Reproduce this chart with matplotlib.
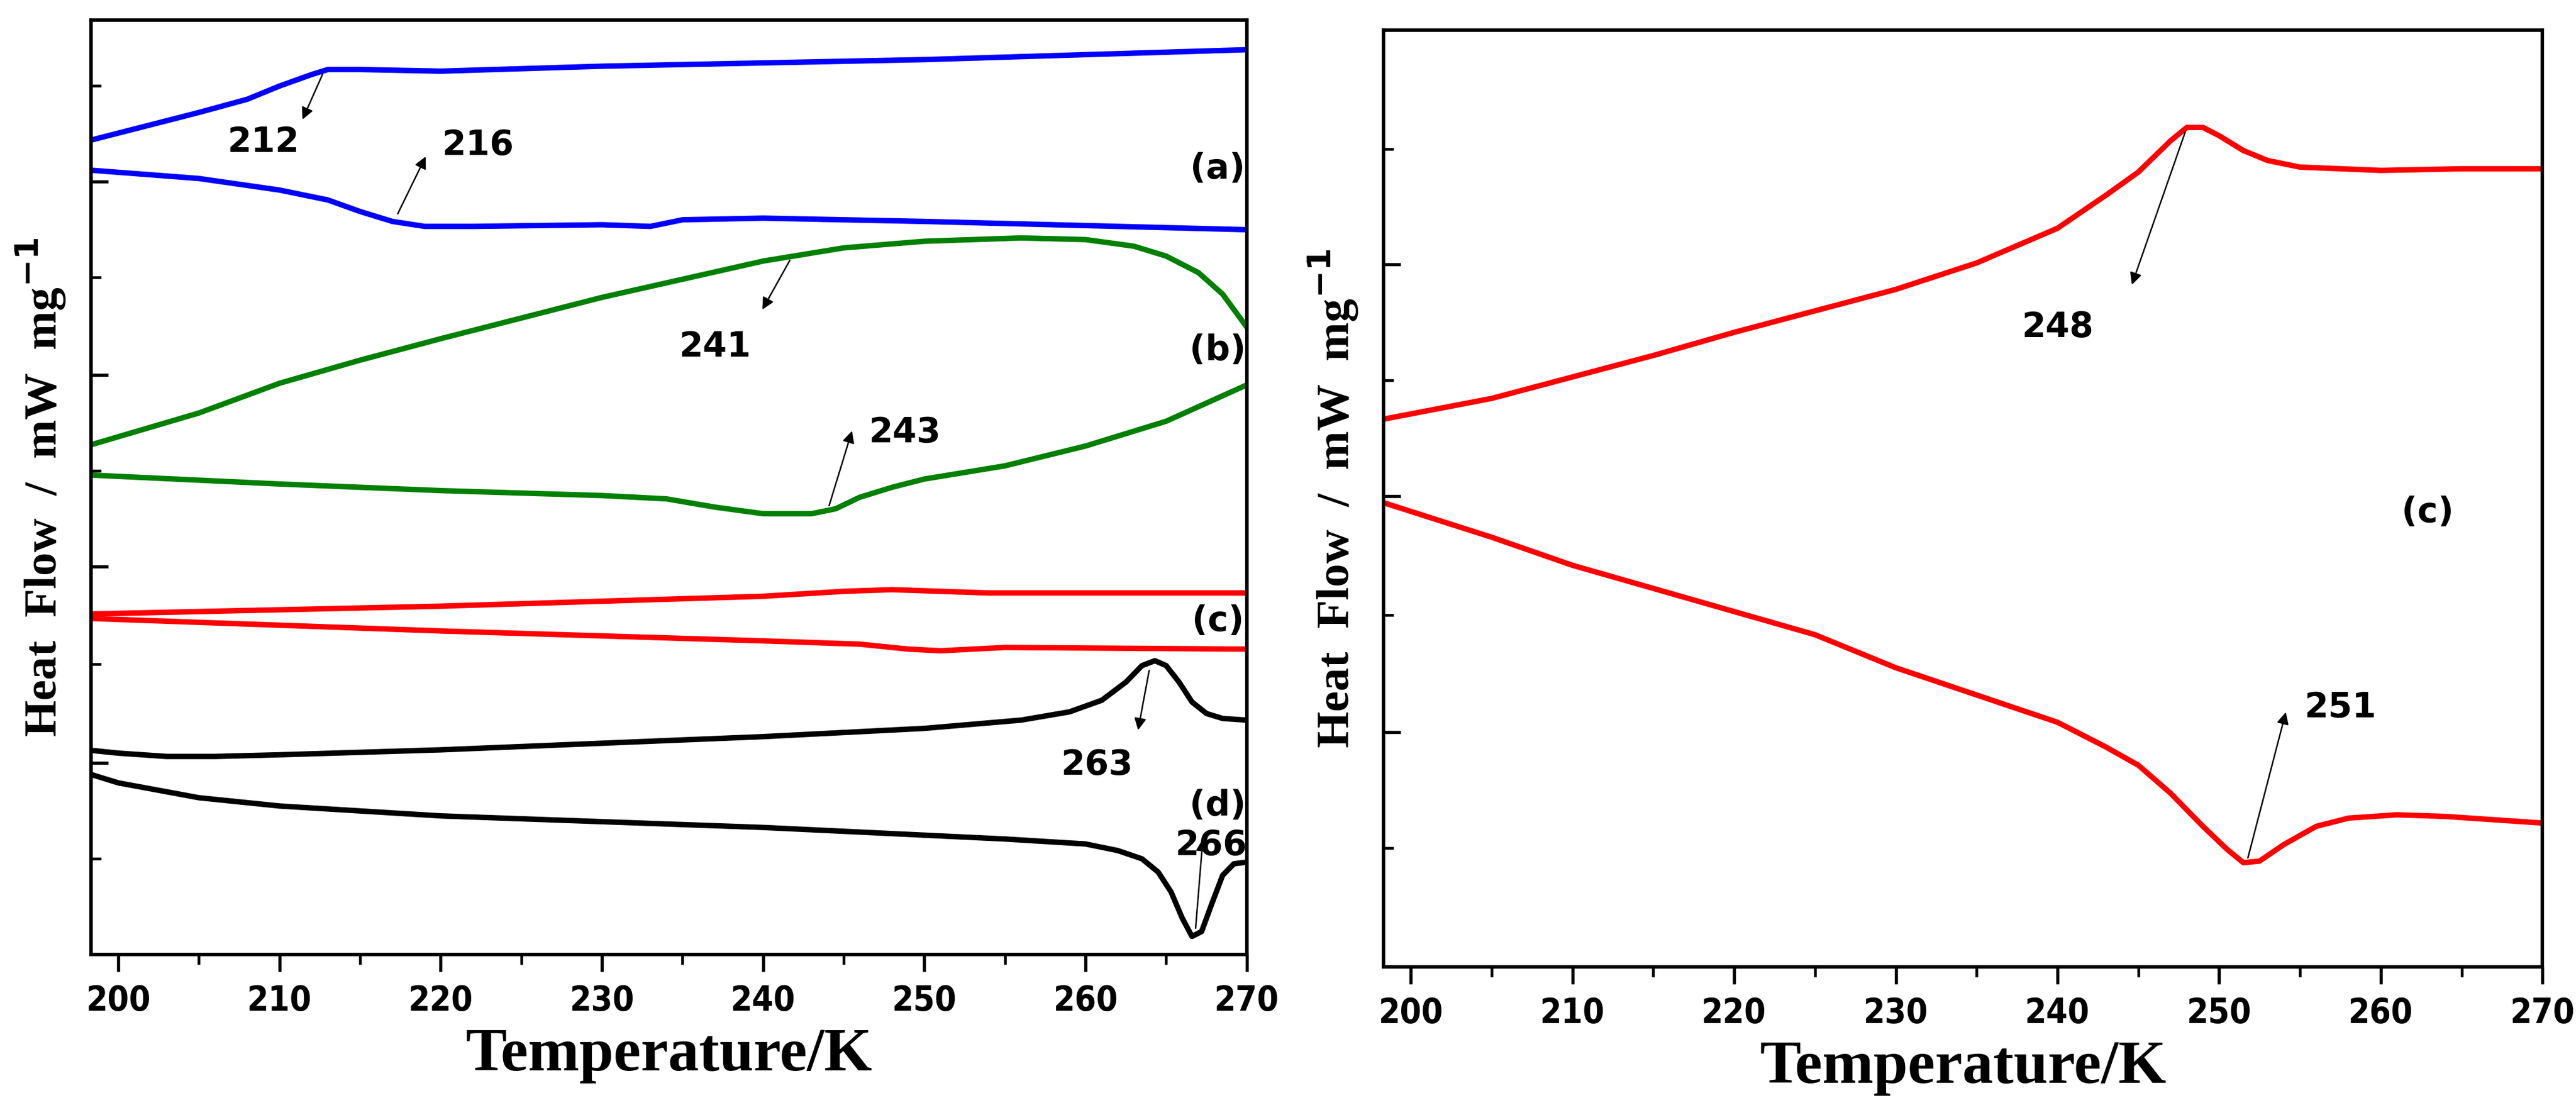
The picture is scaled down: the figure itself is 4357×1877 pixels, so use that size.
import numpy as np
import matplotlib
matplotlib.use("Agg")
import matplotlib.pyplot as plt
from matplotlib.ticker import MultipleLocator, FixedLocator
from matplotlib.font_manager import FontProperties

# DSC traces (heat flow in arbitrary units, larger = up)
blue_up_T = [197, 201, 205, 208, 210, 212, 213, 215, 220, 230, 250, 270]
blue_up_H = [-88, -78, -68, -60, -52, -45, -42, -42, -43, -40, -36, -30]
blue_dn_T = [197, 205, 210, 213, 215, 217, 219, 222, 230, 233, 234, 235, 240, 250, 270]
blue_dn_H = [-102, -108, -115, -121, -128, -134, -137, -137, -136, -137, -135, -133, -132, -134, -139]
green_up_T = [197, 205, 210, 215, 220, 230, 240, 245, 250, 256, 260, 263, 265, 267, 268.5, 270]
green_up_H = [-273, -250, -232, -218, -205, -180, -158, -150, -146, -144, -145, -149, -155, -165, -178, -198]
green_dn_T = [197, 210, 220, 230, 234, 237, 240, 243, 244.5, 246, 248, 250, 255, 260, 265, 270]
green_dn_H = [-287, -293, -297, -300, -302, -307, -311, -311, -308, -301, -295, -290, -282, -270, -255, -233]
red_up_T = [197, 220, 240, 245, 248, 251, 254, 270]
red_up_H = [-372, -367, -361, -358, -357, -358, -359, -359]
red_dn_T = [197, 220, 240, 246, 249, 251, 253, 255, 270]
red_dn_H = [-374, -382, -388, -390, -393, -394, -393, -392, -393]
black_up_T = [197, 200, 203, 206, 210, 220, 240, 250, 256, 259, 261, 262.5, 263.5, 264.3, 265, 265.8, 266.6, 267.5, 268.5, 270]
black_up_H = [-453, -456, -458, -458, -457, -454, -446, -441, -436, -431, -424, -413, -403, -400, -403, -413, -425, -432, -435, -436]
black_dn_T = [197, 200, 205, 210, 220, 240, 255, 260, 262, 263.5, 264.5, 265.3, 266, 266.6, 267.2, 267.8, 268.5, 269.2, 270]
black_dn_H = [-465, -474, -483, -488, -494, -501, -508, -511, -515, -520, -528, -540, -556, -567, -564, -548, -530, -523, -522]

# right panel: sample (c) enlarged
rc_up_T = [197, 205, 210, 215, 220, 230, 235, 240, 243, 245, 247, 248, 249, 250, 251.5, 253, 255, 260, 265, 270]
rc_up_H = [-256, -241, -228, -215, -201, -175, -159, -138, -118, -104, -85, -77, -77, -82, -91, -97, -101, -103, -102, -102]
rc_dn_T = [197, 205, 210, 220, 225, 230, 240, 243, 245, 247, 249, 250.5, 251.5, 252.5, 254, 256, 258, 261, 264, 270]
rc_dn_H = [-300, -325, -342, -370, -384, -404, -437, -452, -463, -480, -500, -514, -522, -521, -511, -500, -495, -493, -494, -498]

tick_font = FontProperties(family='DejaVu Sans', weight='bold', size=14, stretch='condensed')
lab_font = {'family': ['Liberation Serif', 'DejaVu Serif'], 'weight': 'bold'}
ann_font = {'family': ['DejaVu Sans'], 'weight': 'bold', 'size': 14}

fig = plt.figure(figsize=(4357 / 300, 1877 / 300), dpi=300)
axL = fig.add_axes([0.0353, 0.140, 0.4487, 0.842])
axR = fig.add_axes([0.537, 0.129, 0.450, 0.844])

lw = 2.2
kw = dict(lw=lw, solid_joinstyle='round')
axL.plot(blue_up_T, blue_up_H, color='#0000ff', **kw)
axL.plot(blue_dn_T, blue_dn_H, color='#0000ff', **kw)
axL.plot(green_up_T, green_up_H, color='#008000', **kw)
axL.plot(green_dn_T, green_dn_H, color='#008000', **kw)
axL.plot(red_up_T, red_up_H, color='#ff0000', **kw)
axL.plot(red_dn_T, red_dn_H, color='#ff0000', **kw)
axL.plot(black_up_T, black_up_H, color='black', **kw)
axL.plot(black_dn_T, black_dn_H, color='black', **kw)
axL.set_xlim(198.3, 270)
axL.set_ylim(-578, -12)
axL.yaxis.set_major_locator(FixedLocator([-110, -227, -343, -462]))
axL.yaxis.set_minor_locator(FixedLocator([-52, -168, -285, -402, -520]))

axR.plot(rc_up_T, rc_up_H, color='#ff0000', **kw)
axR.plot(rc_dn_T, rc_dn_H, color='#ff0000', **kw)
axR.set_xlim(198.3, 270)
axR.set_ylim(-585, -18)
axR.yaxis.set_major_locator(FixedLocator([-160, -300, -443]))
axR.yaxis.set_minor_locator(FixedLocator([-90, -230, -372, -513]))

arrow = dict(arrowstyle='-|>', color='black', lw=0.6, mutation_scale=10)


def note(ax, label, tip, tail, pos):
    ax.annotate('', xy=tail, xytext=tip, arrowprops=arrow)
    ax.text(pos[0], pos[1], label, ha='center', va='center', **ann_font)


# left panel notes (x in K, y in panel units)
note(axL, '212', (212.8, -42), (211.3, -75), (209.0, -86))
note(axL, '216', (217.2, -132), (219.2, -92), (222.3, -88))
note(axL, '241', (241.8, -155), (239.8, -190), (237.0, -210))
note(axL, '243', (244.0, -309), (245.6, -258), (248.8, -262))
note(axL, '263', (264.0, -403), (263.2, -445), (260.7, -463))
note(axL, '266', (266.8, -565), (267.3, -505), (267.8, -512))
for lab, y in [('(a)', -102), ('(b)', -212), ('(c)', -376), ('(d)', -488)]:
    axL.text(268.2, y, lab, ha='center', va='center', **ann_font)

note(axR, '248', (248.0, -77), (244.5, -175), (240.0, -198))
note(axR, '251', (251.7, -522), (254.2, -428), (257.5, -428))
axR.text(262.9, -310, '(c)', ha='center', va='center', **ann_font)

for ax in (axL, axR):
    ax.xaxis.set_major_locator(MultipleLocator(10))
    ax.xaxis.set_minor_locator(MultipleLocator(5))
    ax.tick_params(axis='x', which='major', direction='out', length=7, width=1.3, pad=5)
    ax.tick_params(axis='x', which='minor', direction='out', length=4, width=1.1)
    ax.tick_params(axis='y', which='major', direction='in', length=7, width=1.3, labelleft=False)
    ax.tick_params(axis='y', which='minor', direction='in', length=4, width=1.1)
    for s in ax.spines.values():
        s.set_linewidth(1.4)
    for t in ax.get_xticklabels():
        t.set_fontproperties(tick_font)
    ax.set_xlabel('Temperature/K', fontsize=25, labelpad=4, **lab_font)
    ax.set_ylabel('Heat  Flow  /  mW  mg$^{\\mathbf{-1}}$', fontsize=19, labelpad=6, **lab_font)

fig.savefig('out.png', dpi=300)
